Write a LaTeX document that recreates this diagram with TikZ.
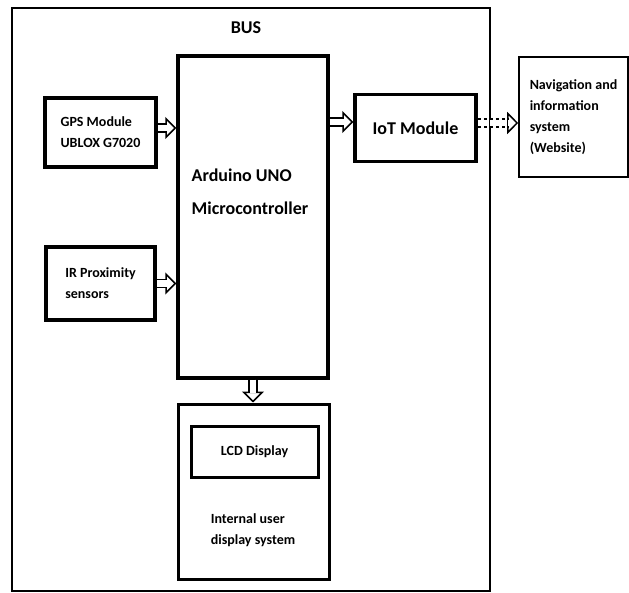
\documentclass[tikz,border=0pt]{standalone}
\usepackage{fontspec}
\setmainfont{Carlito}
\usetikzlibrary{arrows.meta,positioning}
\newcommand\BoxFont{\fontsize{14}{21}\selectfont\bfseries}
\newcommand\BigFont{\fontsize{18}{33}\selectfont\bfseries}
\tikzstyle{busbox}=[rectangle,draw,line width=2pt,inner sep=0pt]
\tikzstyle{block}=[rectangle,draw,line width=3.5pt,inner sep=0pt,align=left,font=\BoxFont]
\tikzstyle{thinblock}=[rectangle,draw,line width=1.6pt,inner sep=0pt,align=left,font=\BoxFont]
\tikzstyle{label}=[align=left,inner sep=0pt,font=\BoxFont]
\tikzstyle{hollow}=[line width=1.5pt,-{Triangle[open,fill=white,length=11pt,width=22pt]},
                     postaction={draw,-,double,double distance=6.5pt,shorten >=9.5pt}]

\begin{document}
\begin{tikzpicture}[x=1pt,y=-1pt]
      \useasboundingbox (0,0) rectangle (629,593);
      % boxes
      \node[busbox] (bus) at (251,299.5) [minimum width=478,minimum height=583] {};
      \node[font=\BigFont] (bustitle) at (246,28) {BUS};
      \node[block] (arduino) at (253,217) [minimum width=150,minimum height=322] {};
      \node[label,font=\BigFont] (arduinotext) at (250,192) {Arduino UNO\\Microcontroller};
      \node[block] (gps) at (100.5,132.5) [minimum width=111,minimum height=69] {GPS Module\\UBLOX G7020};
      \node[block] (ir) at (100.5,283.5) [minimum width=109,minimum height=73] {IR Proximity\\sensors};
      \node[block,font=\BigFont] (iot) at (415.5,128) [minimum width=121,minimum height=67] {IoT Module};
      \node[thinblock] (website) at (573.5,117) [minimum width=109,minimum height=120] {Navigation and\\information\\system\\(Website)};
      \node[block,line width=3pt] (display) at (253.5,491.5) [minimum width=151,minimum height=175] {};
      \node[block,line width=3pt] (lcd) at (254.5,451.5) [minimum width=127,minimum height=51] {LCD Display};
      \node[label] (displaytext) at (253,530) {Internal user\\display system};
      % arrows
      \draw[hollow] ([yshift=4.5pt]gps.east) -- ([yshift=4.5pt]gps.east -| arduino.west);
      \draw[hollow] (ir.east) -- (ir.east -| arduino.west);
      \draw[hollow] ([yshift=6pt]arduino.east |- iot.west) -- ([yshift=6pt]iot.west);
      \draw[hollow,dashed] ([yshift=5pt]iot.east) -- ([yshift=5pt]iot.east -| website.west);
      \draw[hollow] (arduino.south) -- (arduino.south |- display.north);
   \end{tikzpicture}
\end{document}
